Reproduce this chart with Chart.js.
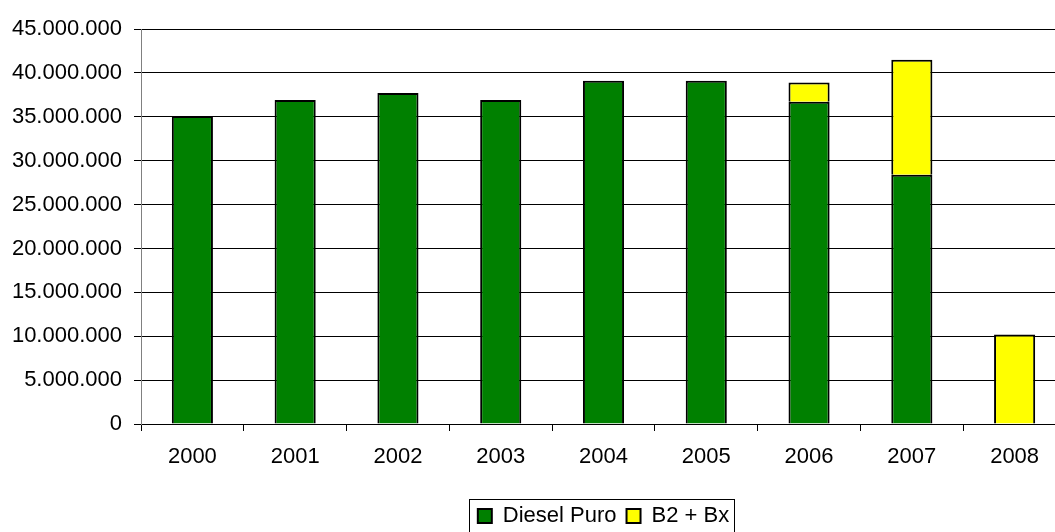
<!DOCTYPE html>
<html>
<head>
<meta charset="utf-8">
<script src="https://cdn.jsdelivr.net/npm/chart.js@4/dist/chart.umd.min.js"></script>
<style>
    body { margin: 0; overflow: hidden; background: #fff; }
    #wrap { position: relative; width: 1205px; height: 537px; }
</style>
</head>
<body>
<div id="wrap"><canvas id="chart"></canvas></div>
<script>
// data (litres)
const years = ['2000', '2001', '2002', '2003', '2004', '2005', '2006', '2007', '2008'];
const dieselPuro = [35100000, 36900000, 37700000, 36900000, 39100000, 39100000, 36700000, 28400000, null];
const b2Bx = [null, null, null, null, null, null, 2200000, 13100000, 10200000];

const fmt = v => String(v).replace(/\B(?=(\d{3})+(?!\d))/g, '.');

Chart.defaults.font.family = 'Arial, "Liberation Sans", sans-serif';
Chart.defaults.font.size = 22;
Chart.defaults.color = '#000';

// border round the legend
const legendBox = {
    id: 'legendBox',
    afterDraw(chart) {
        const boxes = chart.legend.legendHitBoxes;
        if (!boxes || !boxes.length) return;
        let l = Infinity, r = -Infinity, t = Infinity, b = -Infinity;
        boxes.forEach(h => {
            l = Math.min(l, h.left); r = Math.max(r, h.left + h.width);
            t = Math.min(t, h.top); b = Math.max(b, h.top + h.height);
        });
        const ctx = chart.ctx;
        ctx.save();
        ctx.strokeStyle = '#000';
        ctx.lineWidth = 1;
        ctx.strokeRect(Math.round(l - 9) + 0.5, Math.round(t - 6) + 0.5, Math.round(r - l + 14), Math.round(b - t + 12));
        ctx.restore();
    }
};

const chart = new Chart(document.querySelector('#chart'), {
    type: 'bar',
    data: {
        labels: years,
        datasets: [{
            label: 'Diesel Puro',
            data: dieselPuro,
            backgroundColor: '#008000',
            borderColor: '#000',
            borderWidth: 2,
            barPercentage: 0.4,
            categoryPercentage: 1
        }, {
            label: 'B2 + Bx',
            data: b2Bx,
            backgroundColor: '#FFFF00',
            borderColor: '#000',
            borderWidth: 2,
            barPercentage: 0.4,
            categoryPercentage: 1
        }]
    },
    options: {
        responsive: true,
        maintainAspectRatio: false,
        animation: false,
        layout: {
            padding: { top: 29, right: 139, left: 0, bottom: 0 }
        },
        plugins: {
            tooltip: { enabled: false },
            legend: {
                position: 'bottom',
                fullSize: false,
                labels: {
                    boxWidth: 14,
                    boxHeight: 14,
                    padding: 10,
                    color: '#000'
                }
            }
        },
        scales: {
            x: {
                stacked: true,
                afterFit: s => { s.height = 71; },
                grid: {
                    drawOnChartArea: false,
                    color: '#000',
                    tickLength: 7
                },
                border: { color: '#000' },
                ticks: { padding: 13, maxRotation: 0 }
            },
            y: {
                stacked: true,
                min: 0,
                max: 45000000,
                afterFit: s => { s.width = 141; },
                grid: {
                    color: '#000',
                    tickLength: 7
                },
                border: { color: '#808080' },
                ticks: {
                    stepSize: 5000000,
                    padding: 12,
                    callback: v => fmt(v)
                }
            }
        }
    },
    plugins: [legendBox]
});
</script>
</body>
</html>
